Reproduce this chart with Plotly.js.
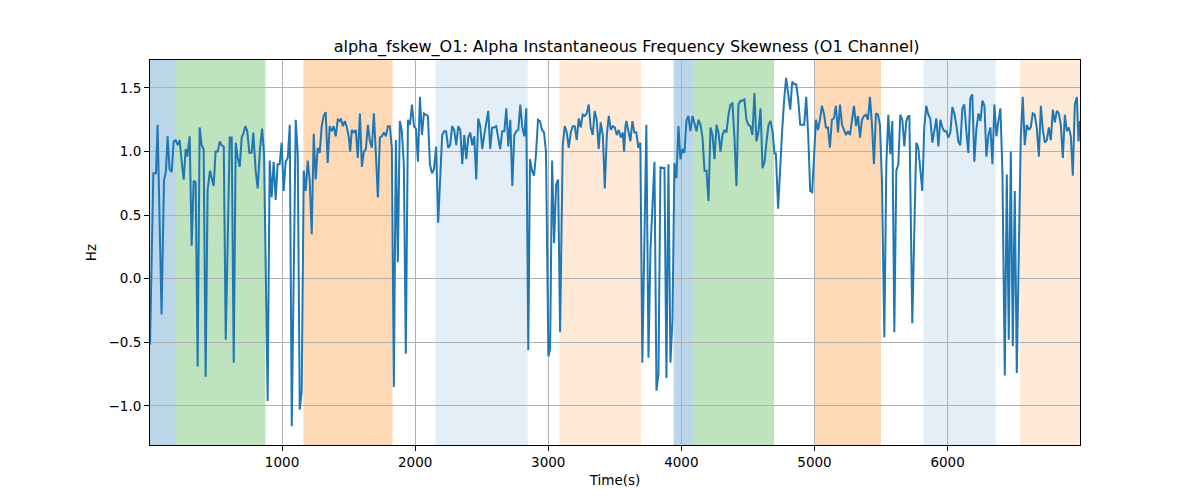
<!DOCTYPE html>
<html>
<head>
<meta charset="utf-8">
<script src="https://cdn.plot.ly/plotly-3.0.1.min.js"></script>
<style>html,body{margin:0;padding:0;background:#fff;}#chart{width:1200px;height:500px;}</style>
</head>
<body>
<div id="chart"></div>
<script>
// Time (s)
var timeS = [8,33,53,65,95,113,128,140,155,171,186,201,216,231,246,261,276,288,306,321,336,351,366,381,396,411,426,441,459,471,486,501,517,532,547,562,577,607,622,637,652,667,682,697,712,
724,739,754,772,784,802,817,835,850,865,892,907,922,937,952,967,982,997,1012,1027,1043,1058,1073,1103,1118,1133,1148,1163,1178,1193,1208,1223,1238,1253,1268,1283,1298,1313,1328,1343,1358,1373,1388,1403,
1419,1434,1442,1457,1472,1487,1502,1512,1524,1539,1554,1569,1585,1600,1615,1630,1645,1660,1675,1690,1705,1720,1735,1750,1765,1780,1795,1810,1825,1840,1855,1870,1885,1900,1915,1930,1946,1961,1976,1991,2006,2021,2036,2051,2066,2081,2096,2111,2126,2141,
2158,2173,2188,2203,2218,2233,2248,2263,2278,2293,2309,2324,2339,2354,2369,2384,2399,2414,2429,2444,2459,2474,2489,2504,2519,2534,2549,2564,2579,2594,2609,2624,2639,2654,2670,2685,2700,2715,2730,2745,2760,2775,2790,2805,2820,2835,2850,
2863,2878,2893,2908,2923,2938,2953,2968,2983,3001,3014,3029,3044,3059,3074,3089,3109,3124,3139,3154,3169,3184,3199,3214,3229,3244,3259,3274,3289,3304,3319,3334,3349,3364,3379,3394,3410,3425,3440,3455,3470,3485,3500,3515,3530,3545,3560,3570,3580,
3587,3602,3617,3632,3647,3662,3677,3692,3707,3737,3753,3768,3783,3798,3813,3828,3843,3858,3873,3888,3903,3918,3933,3948,3963,3978,3993,4008,4023,4038,4053,4068,4084,4099,4114,4129,4144,4159,4174,4189,4204,4219,4234,4249,4264,4279,
4294,4309,4324,4339,4354,4369,4384,4399,4414,4429,4444,4459,4474,4489,4504,4519,4534,4549,4564,4580,4595,4610,4625,4640,4655,4670,4685,4700,4710,4727,4742,4757,4772,4787,4803,4818,4833,4848,4863,4878,4893,4908,4923,4938,4953,4968,4983,
5011,5026,5041,5056,5071,5086,5101,5116,5131,5146,5161,5177,5192,5207,5222,5237,5252,5267,5282,5297,5312,5327,5342,5357,5372,5387,5402,5417,5432,5447,5462,5477,5492,5507,5525,5540,5555,5570,5585,5600,5615,5630,5645,5660,5675,5690,5705,
5713,5735,5765,5780,5795,5810,5825,5840,5855,5870,5886,5901,5916,5931,5946,5961,5976,5991,6006,6021,6036,6051,6066,6081,6096,6111,6126,6141,6156,6171,6186,6201,6216,6232,6247,6262,6277,6292,6307,6322,6337,6352,6367,6382,6397,6412,6430,
6445,6460,6475,6490,6505,6520,6550,6565,6580,6595,6610,6625,6640,6655,6670,6686,6701,6716,6731,6746,6761,6776,6791,6806,6821,6836,6851,6866,6881,6896,6911,6926,6941,6956,6971,6984,6995];

// Alpha instantaneous frequency skewness (Hz)
var fskew = [-0.52,0.83,0.83,1.21,-0.28,0.77,0.85,1.12,0.86,0.84,1.08,1.09,1.05,1.09,0.92,0.78,1.02,0.96,1.12,0.26,0.77,0.76,-0.69,1.19,1.05,1.02,-0.77,0.70,0.85,0.79,0.73,1.00,1.00,1.08,1.05,1.04,-0.48,1.11,1.11,-0.66,1.07,0.95,0.88,1.11,1.15,
1.20,1.16,0.99,0.99,1.15,0.85,0.71,1.03,1.18,0.98,-0.96,0.93,0.64,0.92,0.62,0.90,0.90,1.07,0.69,0.92,0.95,1.21,-1.16,1.25,0.98,-1.03,-0.88,0.85,0.69,0.93,0.77,0.35,1.14,0.78,1.03,0.99,1.20,1.28,1.31,0.91,1.20,1.16,1.20,1.12,
1.25,1.24,1.26,1.20,1.24,1.19,1.11,1.00,1.17,1.15,1.17,0.95,1.30,0.88,1.00,1.02,1.21,1.08,1.03,1.30,0.98,0.64,1.11,1.12,1.15,1.12,1.20,1.20,1.03,-0.85,1.09,0.13,1.24,1.16,0.90,-0.59,1.25,1.21,1.37,1.20,1.18,0.92,1.43,1.13,1.30,1.29,1.28,0.90,0.83,0.86,
1.04,0.44,0.85,1.13,1.16,1.16,1.03,1.05,1.20,1.17,1.05,1.20,1.17,0.90,1.13,0.94,1.11,1.15,1.05,1.12,0.78,1.26,1.20,1.02,1.13,1.23,1.32,1.02,1.19,1.19,1.20,1.11,1.02,1.16,1.16,1.34,1.04,1.25,0.73,1.13,1.16,1.17,1.37,1.19,1.12,1.34,-0.56,
0.94,0.85,0.81,0.98,1.25,1.24,1.17,1.15,1.00,-0.61,-0.55,0.93,0.28,0.74,0.78,-0.42,1.05,1.20,1.15,1.03,1.15,1.20,1.20,1.09,1.26,1.19,1.29,1.28,1.30,1.37,1.19,1.13,1.32,1.25,1.02,1.23,1.13,0.71,1.13,1.28,1.17,1.20,1.19,1.13,1.17,1.11,1.15,1.00,1.20,
1.24,1.16,1.08,1.24,1.15,1.15,1.03,1.07,-0.66,1.21,-0.62,0.23,0.64,0.92,-0.88,-0.75,0.88,0.87,0.87,-0.78,0.90,-0.66,-0.33,0.91,0.79,1.20,0.94,1.02,0.99,1.24,1.28,1.16,1.28,1.21,1.16,1.25,1.21,1.11,0.85,0.85,0.61,1.19,1.13,0.94,1.21,1.15,
1.00,1.13,1.17,1.15,1.29,1.37,1.38,1.11,0.73,1.37,1.40,1.40,1.41,1.25,1.21,1.20,1.13,1.46,1.08,1.16,1.34,0.87,0.92,1.08,1.21,1.24,1.16,0.98,0.99,0.55,0.90,1.16,1.40,1.58,1.45,1.33,1.55,1.53,1.53,1.41,1.21,1.21,1.21,1.43,1.13,0.69,0.68,
1.25,1.17,1.25,1.36,1.30,1.19,1.19,1.03,1.25,1.26,1.36,1.15,1.37,1.21,1.17,1.13,1.16,1.13,1.25,1.36,1.20,1.28,1.11,1.25,1.28,1.29,1.25,1.43,1.21,0.90,1.30,1.29,1.21,0.77,-0.46,0.90,1.29,0.98,1.24,-0.42,0.85,0.90,1.29,1.25,1.04,1.24,1.28,
1.28,-0.35,1.07,1.03,0.85,0.69,1.19,1.36,1.29,1.26,1.07,1.15,1.26,1.04,1.25,1.19,1.16,1.16,1.11,1.15,1.35,1.30,1.21,1.08,1.05,1.34,1.37,1.16,0.99,1.42,1.45,0.92,1.17,1.30,1.24,1.40,1.36,0.96,1.13,1.19,0.90,1.37,1.12,1.24,1.34,0.85,-0.76,
0.82,-0.48,1.00,-0.53,0.69,-0.74,1.11,1.43,1.05,1.21,1.17,1.19,1.30,1.29,1.19,0.96,1.36,1.17,1.07,1.09,1.19,1.09,1.33,1.23,1.32,1.30,1.21,0.95,1.29,1.16,1.19,1.12,0.81,1.37,1.43,1.08,1.24];

// Shaded intervals (s) and their kind
var spanStart = [8, 196, 1160, 2152, 3083, 3942, 4092, 5002, 5820, 6543];
var spanEnd   = [196, 875, 1830, 2845, 3698, 4092, 4696, 5500, 6362, 6995];
var spanKind  = ['blue', 'green', 'orange', 'lightblue', 'lightorange', 'blue', 'green', 'orange', 'lightblue', 'lightorange'];

var kindFill = {
  blue: 'rgba(31,119,180,0.3)',
  green: 'rgba(44,160,44,0.3)',
  orange: 'rgba(255,127,14,0.3)',
  lightblue: 'rgba(31,119,180,0.12)',
  lightorange: 'rgba(255,127,14,0.16)'
};

var shapes = spanStart.map(function (s, i) {
  return {
    type: 'rect', xref: 'x', yref: 'paper',
    x0: s, x1: spanEnd[i], y0: 0, y1: 1,
    fillcolor: kindFill[spanKind[i]],
    line: {width: 0},
    layer: 'below'
  };
});

var trace = {
  x: timeS, y: fskew, type: 'scatter', mode: 'lines',
  line: {color: '#1f77b4', width: 2},
  hoverinfo: 'x+y'
};

var font = {family: 'DejaVu Sans, sans-serif', color: '#000', size: 13.5};

var layout = {
  width: 1200, height: 500,
  margin: {l: 150, r: 120, t: 60, b: 55},
  paper_bgcolor: '#fff', plot_bgcolor: 'rgba(0,0,0,0)',
  font: font,
  showlegend: false,
  title: {
    text: 'alpha_fskew_O1: Alpha Instantaneous Frequency Skewness (O1 Channel)',
    font: {family: 'DejaVu Sans, sans-serif', size: 16, color: '#000'},
    x: 0.5125, xanchor: 'center', xref: 'paper',
    y: 0.908, yanchor: 'middle', yref: 'container'
  },
  xaxis: {
    range: [8, 6995],
    tick0: 0, dtick: 1000,
    showgrid: true, gridcolor: '#b0b0b0', gridwidth: 1,
    zeroline: false,
    showline: true, linecolor: '#000', linewidth: 1, mirror: true,
    ticks: 'outside', ticklen: 5, tickcolor: '#000', tickwidth: 1,
    tickfont: font,
    title: {text: 'Time(s)', font: font, standoff: 6}
  },
  yaxis: {
    range: [-1.307, 1.72],
    tick0: 0, dtick: 0.5, tickformat: '.1f',
    showgrid: true, gridcolor: '#b0b0b0', gridwidth: 1,
    zeroline: false,
    showline: true, linecolor: '#000', linewidth: 1, mirror: true,
    ticks: 'outside', ticklen: 5, tickcolor: '#000', tickwidth: 1,
    tickfont: font,
    title: {text: 'Hz', font: font, standoff: 8}
  },
  shapes: shapes
};

Plotly.newPlot('chart', [trace], layout, {displayModeBar: false, staticPlot: true});
</script>
</body>
</html>
